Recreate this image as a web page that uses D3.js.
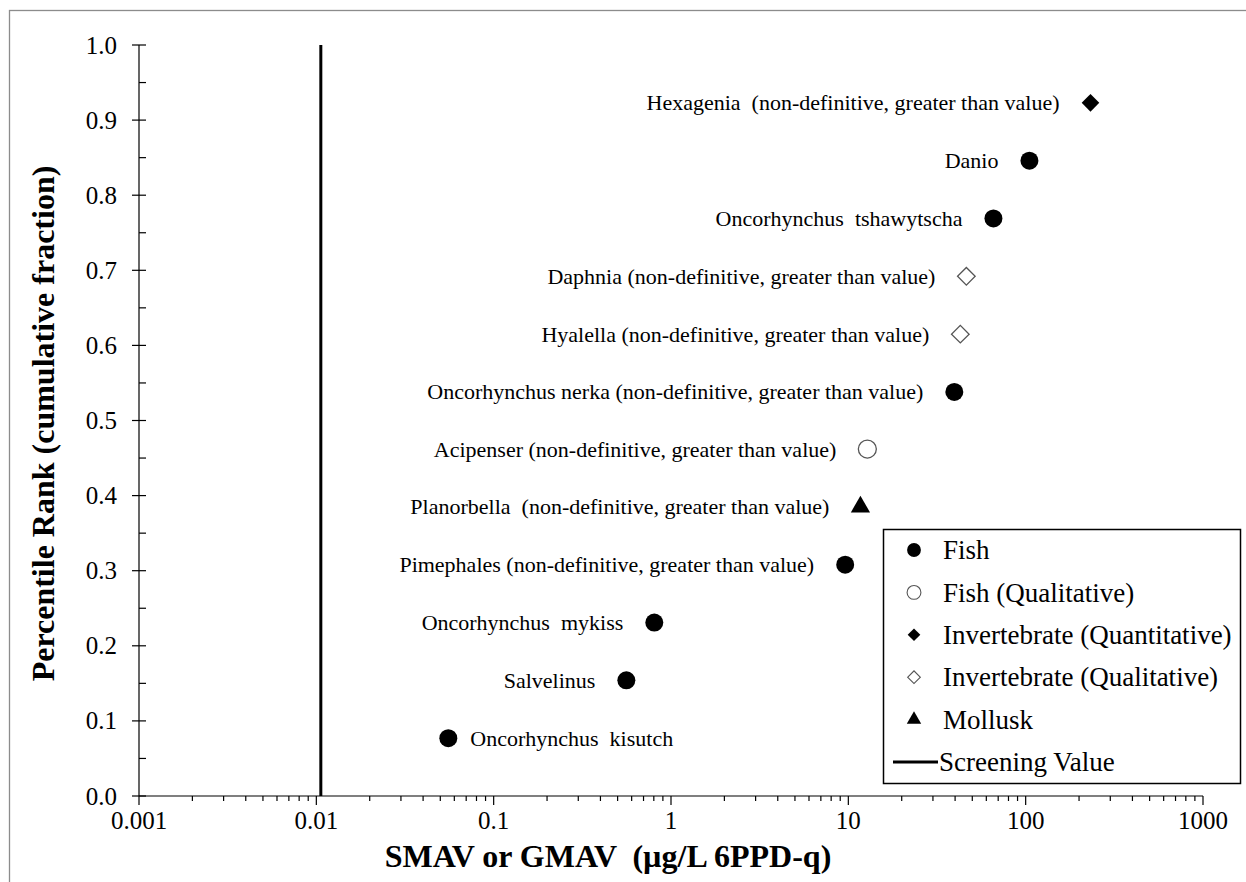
<!DOCTYPE html>
<html>
<head>
<meta charset="utf-8">
<script src="https://cdn.jsdelivr.net/npm/d3@7"></script>
<style>
  body { margin: 0; background: #fff; }
  text { font-family: "Liberation Serif", "Times New Roman", serif; fill: #000; }
</style>
</head>
<body>
<div id="chart"></div>
<script>
// genera, lowest to highest sensitivity value
const genera = [
  "Oncorhynchus  kisutch",
  "Salvelinus",
  "Oncorhynchus  mykiss",
  "Pimephales (non-definitive, greater than value)",
  "Planorbella  (non-definitive, greater than value)",
  "Acipenser (non-definitive, greater than value)",
  "Oncorhynchus nerka (non-definitive, greater than value)",
  "Hyalella (non-definitive, greater than value)",
  "Daphnia (non-definitive, greater than value)",
  "Oncorhynchus  tshawytscha",
  "Danio",
  "Hexagenia  (non-definitive, greater than value)"
];
const smav = [0.0555, 0.56, 0.805, 9.6, 11.7, 12.8, 39.6, 42.8, 46.3, 65.8, 105, 232];
const percentile = [0.077, 0.154, 0.231, 0.308, 0.385, 0.462, 0.538, 0.615, 0.692, 0.769, 0.846, 0.923];
const group = ["Fish", "Fish", "Fish", "Fish", "Mollusk", "Fish (Qualitative)", "Fish",
  "Invertebrate (Qualitative)", "Invertebrate (Qualitative)", "Fish", "Fish", "Invertebrate (Quantitative)"];
const labelRight = ["Oncorhynchus  kisutch"];

const screeningValue = 0.0106;
const legendItems = ["Fish", "Fish (Qualitative)", "Invertebrate (Quantitative)",
  "Invertebrate (Qualitative)", "Mollusk", "Screening Value"];
const xTicks = [0.001, 0.01, 0.1, 1, 10, 100, 1000];
const yTicks = [0, 0.1, 0.2, 0.3, 0.4, 0.5, 0.6, 0.7, 0.8, 0.9, 1.0];

const width = 1246, height = 882;
const margin = {top: 45, right: 43, bottom: 86, left: 139};

const svg = d3.select("#chart").append("svg")
  .attr("width", width)
  .attr("height", height);

// outer chart-area border
svg.append("rect")
  .attr("x", 9.5).attr("y", 10.5)
  .attr("width", width).attr("height", height)
  .attr("fill", "none").attr("stroke", "#8c8c8c").attr("stroke-width", 1.3);

const x = d3.scaleLog().domain([0.001, 1000]).range([margin.left, width - margin.right]);
const y = d3.scaleLinear().domain([0, 1]).range([height - margin.bottom, margin.top]);

// marker styles by group
const markers = {
  "Fish": {type: d3.symbolCircle, size: 254, legendSize: 150, fill: "#000", stroke: "none", rot: 0},
  "Fish (Qualitative)": {type: d3.symbolCircle, size: 254, legendSize: 150, fill: "#fff", stroke: "#555", rot: 0},
  "Invertebrate (Quantitative)": {type: d3.symbolSquare, size: 155, legendSize: 80, fill: "#000", stroke: "none", rot: 45},
  "Invertebrate (Qualitative)": {type: d3.symbolSquare, size: 155, legendSize: 80, fill: "#fff", stroke: "#555", rot: 45},
  "Mollusk": {type: d3.symbolTriangle, size: 160, legendSize: 90, fill: "#000", stroke: "none", rot: 0}
};

// y axis: major ticks cross, minor inside
const yAxisG = svg.append("g").attr("transform", `translate(${margin.left},0)`);
yAxisG.append("line")
  .attr("y1", y(0)).attr("y2", y(1))
  .attr("stroke", "#000").attr("stroke-width", 1.2);
yAxisG.selectAll(".major").data(yTicks).enter().append("line")
  .attr("x1", -7).attr("x2", 7)
  .attr("y1", d => y(d)).attr("y2", d => y(d))
  .attr("stroke", "#000").attr("stroke-width", 1.2);
yAxisG.selectAll(".minor").data(d3.range(0.05, 1, 0.1)).enter().append("line")
  .attr("x1", 0).attr("x2", 7)
  .attr("y1", d => y(d)).attr("y2", d => y(d))
  .attr("stroke", "#000").attr("stroke-width", 1.2);
yAxisG.selectAll("text").data(yTicks).enter().append("text")
  .attr("x", -22).attr("y", d => y(d)).attr("dy", "0.34em")
  .attr("text-anchor", "end")
  .style("font-size", "25px")
  .text(d3.format(".1f"));

// x axis: log decades with minor ticks
const xAxisG = svg.append("g").attr("transform", `translate(0,${y(0)})`);
xAxisG.append("line")
  .attr("x1", x(0.001)).attr("x2", x(1000))
  .attr("stroke", "#000").attr("stroke-width", 1.2);
const minorX = [];
xTicks.slice(0, -1).forEach(t => { for (let k = 2; k < 10; k++) minorX.push(t * k); });
xAxisG.selectAll(".minor").data(minorX).enter().append("line")
  .attr("x1", d => x(d)).attr("x2", d => x(d))
  .attr("y1", 0).attr("y2", 5)
  .attr("stroke", "#000").attr("stroke-width", 1.2);
xAxisG.selectAll(".major").data(xTicks).enter().append("line")
  .attr("x1", d => x(d)).attr("x2", d => x(d))
  .attr("y1", 0).attr("y2", 9)
  .attr("stroke", "#000").attr("stroke-width", 1.2);
xAxisG.selectAll("text").data(xTicks).enter().append("text")
  .attr("x", d => x(d)).attr("y", 33)
  .attr("text-anchor", "middle")
  .style("font-size", "25px")
  .text(d => String(d));

// axis titles
svg.append("text")
  .attr("transform", `translate(54,${(y(0) + y(1)) / 2 + 3}) rotate(-90)`)
  .attr("text-anchor", "middle")
  .style("font-size", "32px").style("font-weight", "bold")
  .text("Percentile Rank (cumulative fraction)");
svg.append("text")
  .attr("x", 608).attr("y", 867)
  .attr("text-anchor", "middle")
  .style("font-size", "32px").style("font-weight", "bold")
  .style("white-space", "pre")
  .text("SMAV or GMAV  (µg/L 6PPD-q)");

// screening value line
svg.append("line")
  .attr("x1", x(screeningValue)).attr("x2", x(screeningValue))
  .attr("y1", y(0)).attr("y2", y(1))
  .attr("stroke", "#000").attr("stroke-width", 3);

// points
const points = genera.map((g, i) => ({name: g, value: smav[i], rank: percentile[i], group: group[i]}));

svg.append("g").selectAll("path").data(points).enter().append("path")
  .attr("d", d => d3.symbol().type(markers[d.group].type).size(markers[d.group].size)())
  .attr("transform", d => `translate(${x(d.value)},${y(d.rank)}) rotate(${markers[d.group].rot})`)
  .attr("fill", d => markers[d.group].fill)
  .attr("stroke", d => markers[d.group].stroke)
  .attr("stroke-width", 1.3);

svg.append("g").selectAll("text").data(points).enter().append("text")
  .attr("x", d => labelRight.includes(d.name) ? x(d.value) + 22 : x(d.value) - 31)
  .attr("y", d => y(d.rank)).attr("dy", "0.34em")
  .attr("text-anchor", d => labelRight.includes(d.name) ? "start" : "end")
  .style("font-size", "22px")
  .style("white-space", "pre")
  .text(d => d.name);

// legend
const legend = svg.append("g").attr("transform", "translate(883,529)");
legend.append("rect")
  .attr("x", 0.5).attr("y", 0.5)
  .attr("width", 357).attr("height", 254)
  .attr("fill", "#fff").attr("stroke", "#000").attr("stroke-width", 1.5);

const rows = legend.selectAll(".row").data(legendItems).enter().append("g")
  .attr("transform", (d, i) => `translate(0,${21 + i * 42.4})`);

rows.filter(d => markers[d]).append("path")
  .attr("d", d => d3.symbol().type(markers[d].type).size(markers[d].legendSize)())
  .attr("transform", d => `translate(31,0) rotate(${markers[d].rot})`)
  .attr("fill", d => markers[d].fill)
  .attr("stroke", d => markers[d].stroke)
  .attr("stroke-width", 1.1);

rows.filter(d => !markers[d]).append("line")
  .attr("x1", 10).attr("x2", 55)
  .attr("stroke", "#000").attr("stroke-width", 3);

rows.append("text")
  .attr("x", d => markers[d] ? 60 : 56)
  .attr("dy", "0.34em")
  .style("font-size", "27px")
  .text(d => d);
</script>
</body>
</html>
